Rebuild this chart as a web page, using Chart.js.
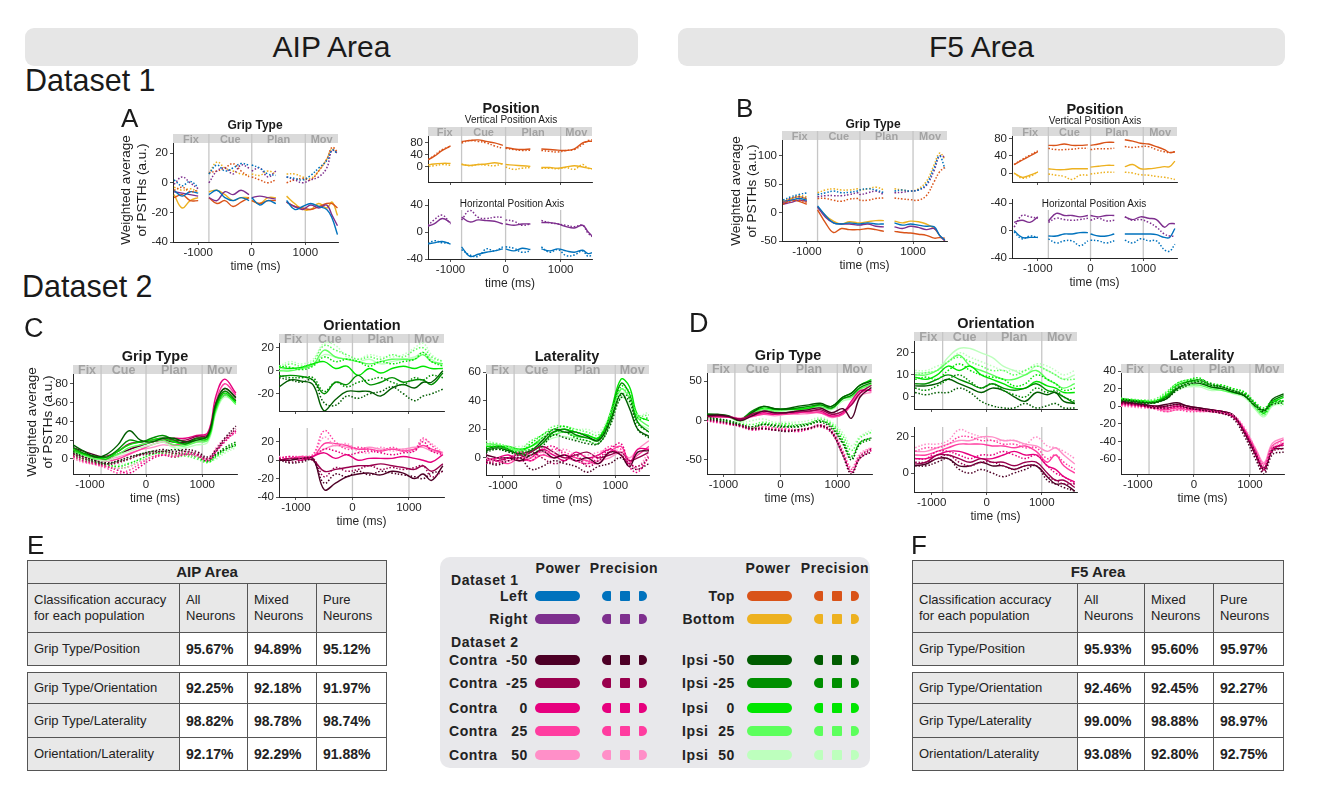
<!DOCTYPE html>
<html>
<head>
<meta charset="utf-8">
<script src="https://cdn.jsdelivr.net/npm/chart.js@4.4.1/dist/chart.umd.min.js"></script>
<style>
  body { margin:0; background:#fff; font-family:"Liberation Sans", Arial, Helvetica, sans-serif; color:#1a1a1a; }
  #page { position:relative; width:1325px; height:795px; overflow:hidden; background:#fff; }
  .abs { position:absolute; white-space:nowrap; }
  .area { position:absolute; top:28px; height:38px; background:#e6e6e6; border-radius:9px; font-size:30px; line-height:38px; text-align:center; }
  .ylab { position:absolute; width:130px; height:34px; font-size:13.5px; line-height:16px; text-align:center; transform:rotate(-90deg); white-space:nowrap; }
  .tbl { position:absolute; border-collapse:collapse; table-layout:fixed; border:1.5px solid #4d4d4d; }
  .tbl td { border:1px solid #555; padding:0 6px; font-size:13px; line-height:16px; color:#222; }
  .tbl td.g { background:#e8e8e8; }
  .tbl td.hd { font-weight:bold; font-size:15px; text-align:center; }
  .tbl td.v { background:#fff; font-weight:bold; font-size:14px; }
  #legend { position:absolute; left:440px; top:557px; width:430px; height:211px; background:#e8e8eb; border-radius:10px; }
  .lg { position:absolute; font-weight:bold; font-size:14px; letter-spacing:0.6px; line-height:18px; white-space:nowrap; color:#222; }
  .sw { position:absolute; height:10px; }
</style>
</head>
<body>
<div id="page">
  <div class="area" style="left:25px;width:613px;">AIP Area</div>
  <div class="area" style="left:678px;width:607px;">F5 Area</div>
  <div class="abs" style="left:25px;top:62px;font-size:30.5px;line-height:36px;">Dataset 1</div>
  <div class="abs" style="left:22px;top:268px;font-size:30.5px;line-height:36px;">Dataset 2</div>
  <div id="legend"></div>
</div>
<script>
// rejilla de tiempo (ms) del Dataset 1, null = corte entre epocas
const T1 = [-1450,-1300,-1150,-1000,-900,-800,-650,-500,-350,-200,-50,-25,0,150,300,450,550,650,800,950,1100,1250,1400,1500,1600];
// rejilla de tiempo (ms) del Dataset 2
const T2 = [-1300,-1100,-900,-700,-500,-300,-100,100,300,500,700,900,1100,1250,1400,1600];

const EPOCH_BOUNDS = [-800, 0, 1000];
const EPOCH_NAMES = ['Fix', 'Cue', 'Plan', 'Mov'];
const X_TICKS = [-1000, 0, 1000];

// colores: left, right, top, bottom
const D1_COLORS = ['#0072bd', '#7e2f8e', '#d95319', '#edb120'];
// orientaciones -50, -25, 0, 25, 50
const ORIENTS = ['-50', '-25', '0', '25', '50'];
const CONTRA_COLORS = ['#4d0026', '#99004d', '#e6007e', '#ff3da0', '#ff8fc8'];
const IPSI_COLORS = ['#005c00', '#008f00', '#00e600', '#5cff5c', '#bdffbd'];

// ---- Dataset 1, AIP (A) ----
// grip type: left, right, top, bottom
const aGripPower = [
  [-5,-9,-6,-7,null,-8,-5,-10,-12,-10,-12,null,-10,-15,-12,-14,null,-12,-18,-16,-14,-16,-18,-24,-35],
  [-6,-7,-8,-9,null,-10,-12,-6,-8,-5,-8,null,-10,-9,-10,-11,null,-13,-16,-18,-15,-17,-15,-22,-29],
  [-10,-8,-12,-12,null,-10,-14,-12,-16,-13,-10,null,-12,-14,-12,-12,null,-13,-16,-17,-18,-16,-14,-14,-17],
  [-8,-17,-12,-10,null,-6,-5,-8,-12,-10,-10,null,-12,-14,-10,-10,null,-9,-14,-18,-18,-14,-17,-13,-22]
];
const aGripPrecision = [
  [2,-2,1,-3,null,6,12,8,10,13,12,null,12,10,6,5,null,4,3,2,5,10,15,22,20],
  [-1,4,0,-4,null,0,8,10,6,12,10,null,8,10,4,8,null,4,2,0,2,4,10,22,20],
  [-5,-3,-6,-5,null,7,8,10,13,8,4,null,4,2,0,2,null,0,2,3,2,8,16,24,21],
  [-3,-5,-4,-6,null,6,14,10,8,6,5,null,6,5,8,6,null,6,6,4,3,8,16,23,20]
];
// position vertical: top, bottom
const aVertPower = [
  [20,35,55,70,null,85,88,90,85,80,72,null,65,60,58,60,null,60,58,56,55,60,80,85,85],
  [5,10,12,12,null,8,5,8,10,14,10,null,8,6,4,2,null,-2,-2,-4,0,4,0,-4,-6]
];
const aVertPrecision = [
  [18,38,58,68,null,80,88,85,80,70,62,null,62,58,55,56,null,55,52,50,55,58,75,88,90],
  [0,4,8,6,null,10,4,8,6,4,12,null,0,-8,-4,-2,null,-4,-4,-6,-2,-8,8,-4,-6]
];
// position horizontal: left, right
const aHorzPower = [
  [-18,-16,-14,-18,null,-22,-36,-33,-30,-28,-25,null,-25,-28,-24,-26,null,-25,-28,-25,-28,-30,-27,-32,-30],
  [8,12,20,14,null,22,15,18,17,16,12,null,12,10,12,12,null,14,14,12,8,6,10,0,-8]
];
const aHorzPrecision = [
  [-20,-13,-16,-16,null,-26,-34,-36,-25,-28,-22,null,-22,-24,-30,-28,null,-22,-30,-26,-35,-34,-28,-36,-32],
  [6,18,25,12,null,18,32,22,20,22,22,null,18,16,10,12,null,17,14,12,10,8,10,-2,-8]
];

// ---- Dataset 1, F5 (B) ----
const bGripPower = [
  [20,22,25,22,null,12,-5,-18,-20,-18,-20,-20,-20,-18,-20,-20,null,-18,-22,-20,-22,-24,-25,-40,-48],
  [15,18,22,20,null,10,-8,-18,-20,-20,-22,-22,-22,-20,-24,-25,null,-25,-28,-24,-26,-30,-28,-40,-50],
  [15,22,20,15,null,5,-18,-35,-28,-30,-30,-30,-30,-28,-30,-33,null,-33,-35,-36,-38,-40,-45,-44,-45],
  [18,25,28,24,null,10,-5,-15,-20,-16,-18,-18,-18,-16,-14,-14,null,-15,-18,-15,-16,-20,-28,-40,-50]
];
const bGripPrecision = [
  [22,28,32,35,null,32,35,38,35,36,38,38,40,42,40,35,null,38,40,38,40,50,80,100,78],
  [18,25,28,25,null,28,30,30,30,32,35,35,32,35,38,32,null,35,36,38,40,48,75,100,98],
  [15,20,22,18,null,25,25,22,20,24,25,25,22,22,25,26,null,26,24,23,22,30,55,72,80],
  [20,25,30,28,null,35,40,42,40,40,42,42,40,42,45,40,null,42,40,38,42,55,85,105,95]
];
const bVertPower = [
  [20,30,40,50,null,65,65,68,65,65,66,null,65,68,72,72,null,78,75,70,68,62,55,48,50],
  [0,-10,-5,2,null,10,8,8,10,10,10,null,14,16,18,18,null,15,20,10,10,12,15,15,28]
];
const bVertPrecision = [
  [20,32,42,52,null,58,55,55,56,58,58,null,55,57,57,58,null,62,60,62,62,55,50,48,50],
  [0,-12,-8,3,null,-2,-5,-8,-15,-5,-5,null,-2,0,2,2,null,2,0,-4,-5,-8,-10,-12,-15]
];
const bHorzPower = [
  [0,-10,-10,-10,null,-8,-8,-5,-5,-3,-3,null,-5,-8,-8,-5,null,-5,-5,-5,-5,-6,-10,-10,3],
  [12,15,12,20,null,14,25,22,22,20,22,null,22,20,22,22,null,20,16,20,18,16,5,10,10]
];
const bHorzPrecision = [
  [-2,-12,-8,-10,null,-12,-18,-15,-15,-22,-15,null,-14,-15,-18,-15,null,-14,-18,-12,-15,-15,-28,-30,-20],
  [5,22,20,18,null,12,18,16,15,16,18,null,15,18,14,15,null,20,15,16,12,5,-5,-8,-8]
];

// ---- Dataset 2, AIP (C) ----  filas: -50, -25, 0, 25, 50
const cGripContraPower = [
  [12,8,4,2,5,10,14,18,20,18,18,22,24,55,68,62],
  [10,5,2,3,8,16,18,20,22,20,20,24,26,60,75,66],
  [8,4,0,-2,5,10,15,18,20,22,22,25,28,68,85,70],
  [6,3,2,-2,0,5,10,15,18,15,18,22,25,62,80,68],
  [5,2,0,0,2,6,10,12,15,14,16,18,22,55,72,64]
];
const cGripContraPrecision = [
  [6,2,-2,-4,-2,2,5,8,10,8,10,8,2,10,22,35],
  [5,0,-4,-6,-4,0,4,6,8,6,8,6,0,8,20,32],
  [3,-2,-5,-8,-12,-15,-8,0,4,2,5,4,-2,8,18,30],
  [2,-3,-6,-10,-15,-12,-5,2,5,4,6,5,0,10,20,28],
  [0,-4,-6,-8,-10,-8,-3,2,4,3,4,3,0,12,22,30]
];
const cGripIpsiPower = [
  [15,8,2,5,15,30,20,18,22,22,18,20,25,60,75,65],
  [12,6,3,2,10,20,18,22,25,20,16,22,24,58,72,62],
  [10,5,2,0,8,15,18,20,22,18,16,20,22,55,70,60],
  [8,4,0,2,5,12,15,18,20,15,14,18,20,52,68,58],
  [6,3,0,-2,4,8,12,15,18,12,12,15,18,50,66,60]
];
const cGripIpsiPrecision = [
  [8,2,-2,-5,-3,0,5,8,8,10,8,5,0,5,10,15],
  [5,0,-3,-5,-2,2,5,6,8,6,5,3,-2,5,12,18],
  [3,0,-4,-6,-8,-5,0,5,6,4,4,2,-3,3,10,16],
  [2,-2,-5,-8,-10,-8,-2,2,5,2,3,0,-4,2,8,14],
  [0,-3,-6,-8,-6,-4,0,4,8,6,6,2,-3,0,6,12]
];
const cOrientIpsiPower = [
  [-14,-8,-9,-12,-35,-25,-18,-18,-18,-22,-15,-12,-15,-10,-10,0],
  [-5,-4,-5,-8,-20,-10,-12,-4,-12,-10,-6,-10,-8,-8,-12,-2],
  [3,2,3,6,8,2,4,-4,2,-2,2,4,2,4,2,2],
  [0,0,2,5,18,12,10,8,6,8,10,10,10,14,8,6],
  [0,2,3,6,14,12,10,8,10,6,8,10,12,16,10,4]
];
const cOrientIpsiPrecision = [
  [-6,-8,-10,-8,-28,-30,-22,-24,-20,-18,-14,-20,-26,-22,-20,-16],
  [-4,-6,-6,-6,-18,-10,-14,-10,-8,-6,-10,-12,-6,-8,-4,-6],
  [4,3,1,4,12,8,10,8,4,8,6,8,10,16,8,4],
  [2,6,4,8,22,18,14,10,12,10,14,12,18,20,12,8],
  [4,8,6,10,24,22,12,10,14,12,12,14,20,24,14,8]
];
const cOrientContraPower = [
  [0,0,2,2,-32,-25,-18,-15,-14,-16,-12,-14,-20,-15,-22,-6],
  [0,2,2,0,-12,-10,-8,-6,-6,-4,-6,-8,-10,-6,-12,-4],
  [0,2,0,4,8,2,6,0,2,2,2,4,2,0,-2,6],
  [0,2,4,4,18,18,16,12,12,10,12,10,12,16,12,8],
  [0,2,2,4,12,16,14,12,14,12,12,12,14,14,10,8]
];
const cOrientContraPrecision = [
  [0,-3,-2,0,-25,-15,-18,-12,-16,-12,-14,-16,-18,-20,-14,-12],
  [2,-2,0,2,-18,-8,-12,-10,-6,-10,-8,-10,-8,-6,-18,-12],
  [2,4,2,4,12,10,6,8,10,8,6,8,10,20,10,6],
  [2,4,4,6,32,20,12,14,12,10,14,10,12,24,16,6],
  [4,3,4,6,25,16,18,10,8,14,10,12,10,22,18,8]
];
const cLatContraPower = [
  [2,0,0,-2,2,5,0,2,-2,0,-4,4,2,-6,4,5],
  [0,-2,0,0,4,8,4,0,2,4,0,2,4,-2,0,4],
  [-2,0,2,-2,0,6,2,-2,4,0,2,6,2,-4,6,6],
  [0,-2,-4,0,-2,2,0,2,0,-2,-4,4,8,-2,2,8],
  [2,0,-2,0,2,4,2,0,-2,-4,-2,0,4,0,6,12]
];
const cLatContraPrecision = [
  [-3,-5,-2,0,-8,-6,-2,-4,-6,-10,-6,-4,0,-6,-8,-4],
  [-2,-4,0,2,4,0,-4,-2,2,-6,-2,4,2,-4,-6,0],
  [-4,-2,0,2,-2,6,8,2,-2,-4,0,6,10,-6,-10,2],
  [-2,0,0,4,2,2,6,4,0,-2,2,8,6,-2,-8,0],
  [0,-2,-2,0,0,4,4,6,2,2,4,6,4,-4,-6,4]
];
const cLatIpsiPower = [
  [5,7,5,3,5,12,20,18,18,15,12,25,45,35,20,15],
  [6,8,6,2,4,10,18,20,16,14,13,28,52,45,25,18],
  [8,8,8,6,8,14,18,20,18,16,14,30,55,50,30,26],
  [10,9,7,5,8,12,16,18,15,14,12,26,48,42,28,22],
  [9,7,6,5,6,10,14,15,13,12,10,22,42,38,25,20]
];
const cLatIpsiPrecision = [
  [4,6,4,2,2,8,16,14,12,10,10,22,42,40,20,14],
  [6,6,5,4,6,10,18,18,14,12,10,24,44,42,24,18],
  [8,8,6,4,10,16,20,22,18,16,14,28,50,46,28,28],
  [10,10,8,6,12,16,22,22,20,18,16,28,48,44,30,30],
  [12,10,8,8,10,14,20,22,20,20,18,30,46,42,30,32]
];

// ---- Dataset 2, F5 (D) ----
const dGripContraPower = [
  [6,7,5,0,6,12,10,10,12,14,16,10,15,3,30,42],
  [6,6,5,2,8,12,10,10,12,12,14,8,12,20,35,45],
  [5,5,4,2,6,10,8,10,10,12,12,6,10,25,38,38],
  [5,5,5,2,5,8,8,8,10,10,10,5,8,22,35,40],
  [4,4,5,3,5,8,6,8,8,9,10,4,8,20,32,36]
];
const dGripContraPrecision = [
  [2,0,-3,-6,-10,-10,-12,-14,-12,-10,-6,-15,-45,-68,-48,-40],
  [1,-1,-4,-7,-11,-10,-12,-13,-12,-10,-7,-14,-42,-66,-46,-36],
  [0,-2,-4,-8,-12,-11,-12,-12,-14,-11,-8,-16,-44,-65,-48,-38],
  [0,-2,-5,-6,-10,-8,-10,-11,-12,-10,-6,-13,-40,-62,-44,-35],
  [-1,-3,-5,-6,-9,-8,-9,-10,-11,-9,-5,-12,-38,-60,-42,-34]
];
const dGripIpsiPower = [
  [8,8,6,0,10,18,15,15,18,20,22,18,30,35,45,50],
  [8,7,5,2,12,18,15,14,16,18,20,16,28,32,42,48],
  [6,6,5,0,10,16,14,15,14,16,20,18,30,35,45,52],
  [5,6,4,0,8,14,12,14,15,16,18,15,28,30,40,46],
  [4,5,4,-2,8,14,12,12,14,15,16,14,25,28,38,44]
];
const dGripIpsiPrecision = [
  [4,2,0,-5,-8,-5,-6,-8,-8,-5,-2,-10,-30,-50,-28,-22],
  [3,2,-1,-6,-10,-5,-8,-8,-6,-4,0,-8,-28,-48,-30,-24],
  [2,1,-2,-5,-8,-4,-6,-6,-8,-5,-1,-6,-25,-45,-28,-22],
  [1,0,-2,-4,-5,-2,-4,-4,-5,-3,2,-4,-20,-38,-22,-15],
  [0,0,-1,-3,0,2,-2,-2,-2,0,4,-2,-16,-32,-20,-12]
];
const dOrientIpsiPower = [
  [5,5,6,8,6,4,2,4,3,0,-2,2,1,2,-2,-3],
  [6,6,8,10,8,6,4,6,4,3,4,6,3,2,0,-3],
  [9,8,10,14,12,14,10,8,6,4,4,7,5,4,2,2],
  [10,10,12,16,19,14,12,10,8,8,10,12,8,6,4,6],
  [11,11,12,18,22,22,20,18,14,12,10,14,12,10,8,10]
];
const dOrientIpsiPrecision = [
  [2,1,2,2,4,2,-2,-4,-5,-5,-3,-5,-4,-3,-5,-5],
  [4,3,5,8,10,7,4,6,3,1,0,4,2,3,0,-2],
  [8,9,8,12,15,12,10,9,8,5,6,10,8,6,3,4],
  [10,11,12,16,18,16,14,12,12,10,12,14,12,10,8,8],
  [12,12,14,16,20,18,16,14,12,12,12,15,14,12,10,12]
];
const dOrientContraPower = [
  [4,5,8,8,4,4,6,4,4,2,4,4,-2,-6,-6,-10],
  [5,6,10,10,8,6,8,6,6,4,6,6,0,-4,-4,-8],
  [8,8,10,12,12,10,8,8,10,12,10,10,4,2,-2,-5],
  [10,10,12,14,16,16,16,15,15,14,15,12,6,10,4,0],
  [12,12,14,16,18,18,20,20,18,18,16,15,12,14,10,5]
];
const dOrientContraPrecision = [
  [4,4,6,8,2,0,2,0,-2,0,2,4,-4,-6,-8,-10],
  [6,6,8,10,6,4,6,6,4,2,4,4,-2,-4,-6,-6],
  [8,8,12,12,10,8,10,10,12,10,8,10,4,0,-2,-6],
  [12,14,14,16,20,20,18,18,16,16,14,14,8,10,6,2],
  [14,16,16,18,24,22,20,18,18,18,16,20,15,14,12,8]
];
const dLatContraPower = [
  [6,4,2,0,2,4,0,-2,-4,-6,-10,-30,-55,-72,-50,-48],
  [5,3,2,0,0,2,0,-2,-4,-6,-10,-28,-52,-70,-48,-44],
  [4,3,1,0,-2,0,-2,-4,-4,-6,-12,-30,-55,-72,-50,-42],
  [3,2,0,-2,-4,-2,-4,-4,-6,-6,-10,-26,-50,-66,-45,-38],
  [2,1,0,-2,-6,-4,-4,-6,-6,-8,-12,-26,-48,-64,-42,-36]
];
const dLatContraPrecision = [
  [4,3,1,-2,0,2,-2,-4,-6,-8,-14,-34,-60,-77,-55,-52],
  [3,2,0,-2,-2,0,-2,-4,-6,-8,-12,-30,-56,-74,-52,-48],
  [2,1,0,-1,-3,-1,-3,-4,-5,-7,-12,-28,-54,-72,-50,-44],
  [1,0,-1,-3,-6,-4,-6,-6,-6,-8,-12,-26,-50,-68,-48,-42],
  [0,-1,-2,-3,-6,-4,-5,-5,-6,-8,-10,-24,-48,-66,-46,-40]
];
const dLatIpsiPower = [
  [8,6,4,5,8,20,26,26,22,20,16,12,0,-6,8,14],
  [9,7,5,4,10,22,28,30,24,22,17,14,2,-5,6,12],
  [8,7,6,5,12,24,28,28,22,20,16,12,0,-8,4,10],
  [7,6,6,6,12,20,24,24,20,18,15,12,-2,-10,2,6],
  [6,6,5,6,10,18,22,22,18,18,14,10,-4,-12,0,4]
];
const dLatIpsiPrecision = [
  [6,5,3,4,8,18,24,28,24,22,18,12,0,-4,2,4],
  [7,6,4,4,10,20,26,30,26,22,18,14,2,-4,4,6],
  [8,7,6,6,14,26,30,32,24,24,20,16,4,-2,6,6],
  [9,8,7,8,16,26,30,30,26,24,20,16,2,-6,4,2],
  [8,7,6,6,14,22,26,28,24,22,18,14,0,-10,2,0]
];

// tablas de precision de clasificacion
const PAIRS = ['Grip Type/Position', 'Grip Type/Orientation', 'Grip Type/Laterality', 'Orientation/Laterality'];
const AIP_ACC = [['95.67%','94.89%','95.12%'], ['92.25%','92.18%','91.97%'], ['98.82%','98.78%','98.74%'], ['92.17%','92.29%','91.88%']];
const F5_ACC = [['95.93%','95.60%','95.97%'], ['92.46%','92.45%','92.27%'], ['99.00%','98.88%','98.97%'], ['93.08%','92.80%','92.75%']];

Chart.defaults.font.family = '"Liberation Sans", Arial, Helvetica, sans-serif';

// bandas de epocas y lineas verticales
const epochPlugin = {
    id: 'epochs',
    beforeDatasetsDraw(chart, args, opts) {
        const { ctx, chartArea: a } = chart;
        const x = chart.scales.x;
        ctx.save();
        if (opts.band) {
            ctx.fillStyle = '#dadada';
            ctx.fillRect(a.left, a.top, a.right - a.left, 9);
        }
        ctx.strokeStyle = '#c6c6c6';
        ctx.lineWidth = 1.3;
        EPOCH_BOUNDS.forEach(b => {
            const px = x.getPixelForValue(b);
            ctx.beginPath();
            ctx.moveTo(px, a.top + (opts.lineTop || 0));
            ctx.lineTo(px, a.bottom);
            ctx.stroke();
        });
        if (opts.band) {
            const edges = [a.left, ...EPOCH_BOUNDS.map(b => x.getPixelForValue(b)), a.right];
            ctx.fillStyle = '#a3a3a3';
            ctx.font = `bold ${opts.fs}px "Liberation Sans", Arial, sans-serif`;
            ctx.textAlign = 'center';
            ctx.textBaseline = 'middle';
            EPOCH_NAMES.forEach((n, i) => ctx.fillText(n, (edges[i] + edges[i + 1]) / 2, a.top + 5.5));
        }
        ctx.restore();
    }
};

function lines(T, rows, colors, dotted) {
    return rows.map((row, i) => ({
        data: row.map((y, k) => ({ x: T[k], y })),
        borderColor: colors[i],
        borderWidth: dotted ? 1.5 : 1.4,
        borderDash: dotted ? [1.5, 1.8] : [],
        pointRadius: 0,
        tension: 0.4,
        fill: false,
        spanGaps: false
    }));
}

const page = document.getElementById('page');

function makeChart(box, cfg) {
    const YW = 40, PADT = 8, PADR = 10;
    const XH = cfg.xLabels ? 32 : 3;
    const W = box.w + YW + PADR, H = box.h + PADT + XH;
    const cv = document.createElement('canvas');
    cv.width = W; cv.height = H;
    cv.style.cssText = `position:absolute;left:${box.l - YW}px;top:${box.t - PADT}px;width:${W}px;height:${H}px;`;
    page.appendChild(cv);
    const axisCol = '#262626';
    new Chart(cv, {
        type: 'line',
        data: { datasets: cfg.series },
        options: {
            responsive: false,
            animation: false,
            events: [],
            layout: { padding: { top: PADT, right: PADR, left: 0, bottom: 0 } },
            plugins: {
                legend: { display: false },
                tooltip: { enabled: false },
                epochs: { band: cfg.band, fs: cfg.fs, lineTop: cfg.lineTop || 0 }
            },
            scales: {
                x: {
                    type: 'linear', min: cfg.x[0], max: cfg.x[1],
                    afterFit: s => { s.height = XH; s.paddingLeft = 0; s.paddingRight = 0; },
                    afterBuildTicks: s => { s.ticks = X_TICKS.map(v => ({ value: v })); },
                    ticks: { display: cfg.xLabels, color: axisCol, font: { size: 11.5 }, padding: 1, maxRotation: 0, autoSkip: false,
                             callback: v => String(v) },
                    title: { display: cfg.xLabels, text: 'time (ms)', color: axisCol, font: { size: 12 }, padding: { top: 0, bottom: 0 } },
                    grid: { display: true, drawOnChartArea: false, drawTicks: true, tickLength: 3, color: axisCol, lineWidth: 0.8 },
                    border: { display: true, color: axisCol, width: 1 }
                },
                y: {
                    type: 'linear', min: cfg.y[0], max: cfg.y[1],
                    afterFit: s => { s.width = YW; s.paddingTop = 0; s.paddingBottom = 0; },
                    afterBuildTicks: s => { s.ticks = cfg.yTicks.map(v => ({ value: v })); },
                    ticks: {
                        color: axisCol, font: { size: 11.5 }, padding: 2, autoSkip: false,
                        callback: (v, i) => cfg.yLabels ? cfg.yLabels[i] : String(v)
                    },
                    grid: { display: true, drawOnChartArea: false, drawTicks: true, tickLength: 3, color: axisCol, lineWidth: 0.8 },
                    border: { display: true, color: axisCol, width: 1 }
                }
            }
        },
        plugins: [epochPlugin]
    });
}

function addText(txt, cx, cy, size, bold) {
    const d = document.createElement('div');
    d.className = 'abs';
    d.style.cssText += `left:${cx - 100}px;top:${cy - 10}px;width:200px;height:20px;line-height:20px;text-align:center;font-size:${size}px;font-weight:${bold ? 'bold' : 'normal'};`;
    d.textContent = txt;
    page.appendChild(d);
}

function addLetter(txt, l, t, size) {
    const d = document.createElement('div');
    d.className = 'abs';
    d.style.cssText += `left:${l}px;top:${t}px;font-size:${size}px;line-height:30px;`;
    d.textContent = txt;
    page.appendChild(d);
}

function addYLabel(cx, cy) {
    const d = document.createElement('div');
    d.className = 'ylab';
    d.style.left = (cx - 65) + 'px';
    d.style.top = (cy - 17) + 'px';
    d.innerHTML = 'Weighted average<br>of PSTHs (a.u.)';
    page.appendChild(d);
}

const vertCols = [D1_COLORS[2], D1_COLORS[3]];
const horzCols = [D1_COLORS[0], D1_COLORS[1]];

// ---- panel A ----
makeChart({ l: 173, t: 134, w: 165, h: 108 }, {
    x: [-1470, 1610], y: [-40, 33], yTicks: [-40, -20, 0, 20], band: true, fs: 11, xLabels: true,
    series: [...lines(T1, aGripPrecision, D1_COLORS, true), ...lines(T1, aGripPower, D1_COLORS, false)]
});
makeChart({ l: 428, t: 127, w: 164, h: 55 }, {
    x: [-1410, 1570], y: [-50, 133], yTicks: [0, 40, 80], band: true, fs: 11, xLabels: false,
    series: [...lines(T1, aVertPrecision, vertCols, true), ...lines(T1, aVertPower, vertCols, false)]
});
makeChart({ l: 428, t: 199, w: 164, h: 60 }, {
    x: [-1410, 1570], y: [-40, 49], yTicks: [-40, 0, 40], band: false, lineTop: 11, xLabels: true,
    series: [...lines(T1, aHorzPrecision, horzCols, true), ...lines(T1, aHorzPower, horzCols, false)]
});

// ---- panel B ----
makeChart({ l: 782, t: 131, w: 165, h: 110 }, {
    x: [-1470, 1640], y: [-50, 144], yTicks: [-50, 0, 50, 100], band: true, fs: 11, xLabels: true,
    series: [...lines(T1, bGripPrecision, D1_COLORS, true), ...lines(T1, bGripPower, D1_COLORS, false)]
});
makeChart({ l: 1012, t: 127, w: 165, h: 55 }, {
    x: [-1490, 1640], y: [-21, 108], yTicks: [0, 40, 80], band: true, fs: 11, xLabels: false,
    series: [...lines(T1, bVertPrecision, vertCols, true), ...lines(T1, bVertPower, vertCols, false)]
});
makeChart({ l: 1012, t: 199, w: 165, h: 59 }, {
    x: [-1490, 1640], y: [-40, 46], yTicks: [-40, 0, 40], yLabels: ['-40', '0', '-40'], band: false, lineTop: 11, xLabels: true,
    series: [...lines(T1, bHorzPrecision, horzCols, true), ...lines(T1, bHorzPower, horzCols, false)]
});

// ---- panel C ----
makeChart({ l: 73, t: 365, w: 164, h: 109 }, {
    x: [-1300, 1620], y: [-16, 100], yTicks: [0, 20, 40, 60, 80], band: true, fs: 12.5, xLabels: true,
    series: [...lines(T2, cGripContraPrecision, CONTRA_COLORS, true), ...lines(T2, cGripIpsiPrecision, IPSI_COLORS, true),
             ...lines(T2, cGripIpsiPower, IPSI_COLORS, false), ...lines(T2, cGripContraPower, CONTRA_COLORS, false)]
});
makeChart({ l: 279, t: 334, w: 165, h: 77 }, {
    x: [-1300, 1620], y: [-35, 32], yTicks: [-20, 0, 20], band: true, fs: 12.5, xLabels: false,
    series: [...lines(T2, cOrientIpsiPrecision, IPSI_COLORS, true), ...lines(T2, cOrientIpsiPower, IPSI_COLORS, false)]
});
makeChart({ l: 279, t: 428, w: 165, h: 69 }, {
    x: [-1300, 1620], y: [-40, 35], yTicks: [-40, -20, 0, 20], band: false, xLabels: true,
    series: [...lines(T2, cOrientContraPrecision, CONTRA_COLORS, true), ...lines(T2, cOrientContraPower, CONTRA_COLORS, false)]
});
makeChart({ l: 486, t: 365, w: 163, h: 110 }, {
    x: [-1300, 1600], y: [-12, 65], yTicks: [0, 20, 40, 60], band: true, fs: 12.5, xLabels: true,
    series: [...lines(T2, cLatContraPrecision, CONTRA_COLORS, true), ...lines(T2, cLatIpsiPrecision, IPSI_COLORS, true),
             ...lines(T2, cLatContraPower, CONTRA_COLORS, false), ...lines(T2, cLatIpsiPower, IPSI_COLORS, false)]
});

// ---- panel D ----
makeChart({ l: 707, t: 364, w: 165, h: 110 }, {
    x: [-1290, 1610], y: [-68, 72], yTicks: [-50, 0, 50], band: true, fs: 12.5, xLabels: true,
    series: [...lines(T2, dGripContraPrecision, CONTRA_COLORS, true), ...lines(T2, dGripIpsiPrecision, IPSI_COLORS, true),
             ...lines(T2, dGripContraPower, CONTRA_COLORS, false), ...lines(T2, dGripIpsiPower, IPSI_COLORS, false)]
});
makeChart({ l: 914, t: 332, w: 163, h: 77 }, {
    x: [-1320, 1640], y: [-5.5, 29.5], yTicks: [0, 10, 20], band: true, fs: 12.5, xLabels: false,
    series: [...lines(T2, dOrientIpsiPrecision, IPSI_COLORS, true), ...lines(T2, dOrientIpsiPower, IPSI_COLORS, false)]
});
makeChart({ l: 914, t: 427, w: 163, h: 65 }, {
    x: [-1320, 1640], y: [-10.5, 25.5], yTicks: [0, 20], band: false, xLabels: true,
    series: [...lines(T2, dOrientContraPrecision, CONTRA_COLORS, true), ...lines(T2, dOrientContraPower, CONTRA_COLORS, false)]
});
makeChart({ l: 1121, t: 364, w: 163, h: 110 }, {
    x: [-1300, 1607], y: [-77, 48], yTicks: [-60, -40, -20, 0, 20, 40], band: true, fs: 12.5, xLabels: true,
    series: [...lines(T2, dLatContraPrecision, CONTRA_COLORS, true), ...lines(T2, dLatIpsiPrecision, IPSI_COLORS, true),
             ...lines(T2, dLatContraPower, CONTRA_COLORS, false), ...lines(T2, dLatIpsiPower, IPSI_COLORS, false)]
});

// titulos
addText('Grip Type', 255, 125, 12, true);
addText('Position', 511, 108, 14.5, true);
addText('Vertical Position Axis', 511, 120, 10, false);
addText('Horizontal Position Axis', 512, 204, 10, false);
addText('Grip Type', 873, 124, 12, true);
addText('Position', 1095, 109, 14.5, true);
addText('Vertical Position Axis', 1095, 121, 10, false);
addText('Horizontal Position Axis', 1094, 204, 10, false);
addText('Grip Type', 155, 356, 14.5, true);
addText('Orientation', 362, 325, 14.5, true);
addText('Laterality', 567, 356, 14.5, true);
addText('Grip Type', 788, 355, 14.5, true);
addText('Orientation', 996, 323, 14.5, true);
addText('Laterality', 1202, 355, 14.5, true);

addYLabel(135, 190);
addYLabel(745, 191);
addYLabel(41, 422);

addLetter('A', 121, 103, 26);
addLetter('B', 736, 93, 26);
addLetter('C', 24, 313, 27);
addLetter('D', 689, 308, 27);
addLetter('E', 27, 530, 26);
addLetter('F', 911, 530, 26);

// tablas E y F
function makeTable(l, t, cols, rows) {
    const tb = document.createElement('table');
    tb.className = 'tbl';
    tb.style.left = l + 'px';
    tb.style.top = t + 'px';
    tb.style.width = cols.reduce((a, b) => a + b, 0) + 'px';
    tb.innerHTML = '<colgroup>' + cols.map(w => `<col style="width:${w}px">`).join('') + '</colgroup>' +
        rows.map(r => `<tr style="height:${r.h}px">` + r.cells.join('') + '</tr>').join('');
    page.appendChild(tb);
}

function buildTables(l, cols, title, acc) {
    makeTable(l, 560, cols, [
        { h: 23, cells: [`<td class="g hd" colspan="4">${title}</td>`] },
        { h: 49, cells: ['<td class="g">Classification accuracy<br>for each population</td>',
                         '<td class="g">All<br>Neurons</td>', '<td class="g">Mixed<br>Neurons</td>', '<td class="g">Pure<br>Neurons</td>'] },
        { h: 33, cells: [`<td class="g">${PAIRS[0]}</td>`, ...acc[0].map(v => `<td class="v">${v}</td>`)] }
    ]);
    makeTable(l, 672, cols, [1, 2, 3].map((k, i) => ({
        h: [31, 34, 33][i],
        cells: [`<td class="g">${PAIRS[k]}</td>`, ...acc[k].map(v => `<td class="v">${v}</td>`)]
    })));
}
buildTables(27, [152, 68, 69, 70], 'AIP Area', AIP_ACC);
buildTables(912, [165, 67, 69, 70], 'F5 Area', F5_ACC);

// leyenda
const legend = document.getElementById('legend');
function lgText(txt, l, cy, align) {
    const d = document.createElement('div');
    d.className = 'lg';
    if (align === 'right') {
        d.style.cssText += `left:${l - 150 - 440}px;width:150px;text-align:right;top:${cy - 9 - 557}px;`;
    } else if (align === 'center') {
        d.style.cssText += `left:${l - 60 - 440}px;width:120px;text-align:center;top:${cy - 9 - 557}px;`;
    } else {
        d.style.cssText += `left:${l - 440}px;top:${cy - 9 - 557}px;`;
    }
    d.textContent = txt;
    legend.appendChild(d);
}
function lgSwatch(x, cy, color) {
    const s = document.createElement('div');
    s.className = 'sw';
    s.style.cssText += `left:${x - 440}px;top:${cy - 5 - 557}px;width:45px;background:${color};border-radius:5px;`;
    legend.appendChild(s);
    [[0, 9, '5px 1px 1px 5px'], [18, 10, '1px'], [37, 8, '1px 5px 5px 1px']].forEach(([dx, w, r]) => {
        const p = document.createElement('div');
        p.className = 'sw';
        p.style.cssText += `left:${x + 67 + dx - 440}px;top:${cy - 5 - 557}px;width:${w}px;background:${color};border-radius:${r};`;
        legend.appendChild(p);
    });
}
lgText('Power', 558, 568, 'center');
lgText('Precision', 624, 568, 'center');
lgText('Power', 768, 568, 'center');
lgText('Precision', 835, 568, 'center');
lgText('Dataset 1', 451, 580);
lgText('Dataset 2', 451, 642);
const d1Left = ['Left', 'Right'], d1Right = ['Top', 'Bottom'];
const d1Y = [596, 619];
d1Left.forEach((n, i) => { lgText(n, 528, d1Y[i], 'right'); lgSwatch(535, d1Y[i], D1_COLORS[i]); });
d1Right.forEach((n, i) => { lgText(n, 735, d1Y[i], 'right'); lgSwatch(747, d1Y[i], D1_COLORS[i + 2]); });
const d2Y = [660, 683, 708, 731, 755];
ORIENTS.forEach((o, i) => {
    lgText('Contra', 449, d2Y[i]);
    lgText(o, 528, d2Y[i], 'right');
    lgSwatch(535, d2Y[i], CONTRA_COLORS[i]);
    lgText('Ipsi', 682, d2Y[i]);
    lgText(o, 735, d2Y[i], 'right');
    lgSwatch(747, d2Y[i], IPSI_COLORS[i]);
});
</script>
</body>
</html>
